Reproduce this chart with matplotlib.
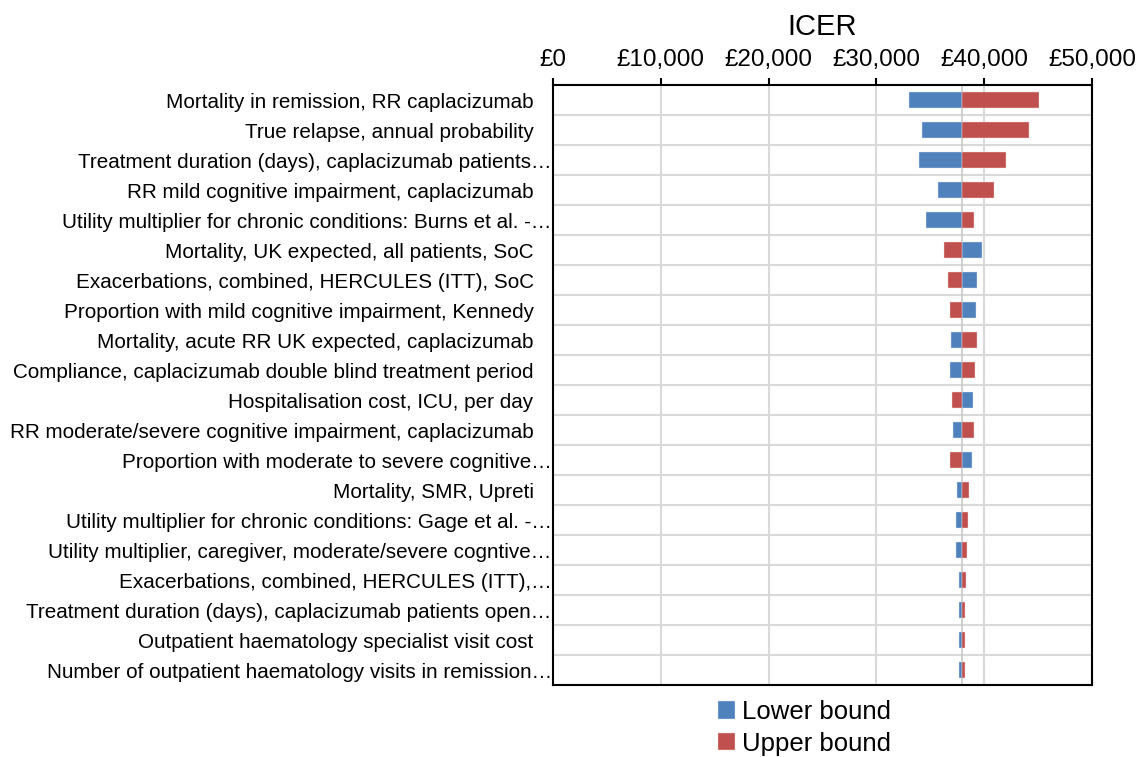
import matplotlib.pyplot as plt
from matplotlib.ticker import FuncFormatter, MultipleLocator

plt.rcParams['font.family'] = ['Liberation Sans', 'DejaVu Sans']

# parameters, top to bottom as shown
parameters = [
    "Mortality in remission, RR caplacizumab",
    "True relapse, annual probability",
    "Treatment duration (days), caplacizumab patients…",
    "RR mild cognitive impairment, caplacizumab",
    "Utility multiplier for chronic conditions: Burns et al. -…",
    "Mortality, UK expected, all patients, SoC",
    "Exacerbations, combined, HERCULES (ITT), SoC",
    "Proportion with mild cognitive impairment, Kennedy",
    "Mortality, acute RR UK expected, caplacizumab",
    "Compliance, caplacizumab double blind treatment period",
    "Hospitalisation cost, ICU, per day",
    "RR moderate/severe cognitive impairment, caplacizumab",
    "Proportion with moderate to severe cognitive…",
    "Mortality, SMR, Upreti",
    "Utility multiplier for chronic conditions: Gage et al. -…",
    "Utility multiplier, caregiver, moderate/severe cogntive…",
    "Exacerbations, combined, HERCULES (ITT),…",
    "Treatment duration (days), caplacizumab patients open…",
    "Outpatient haematology specialist visit cost",
    "Number of outpatient haematology visits in remission…",
]

base_icer = 37970

lower_bound = [33010, 34210, 33930, 35750, 34580, 39750, 39290, 39230, 36930, 36800,
               38960, 37070, 38830, 37440, 37420, 37350, 37680, 37700, 37700, 37700]
upper_bound = [45110, 44160, 42000, 40860, 39050, 36280, 36610, 36800, 39290, 39140,
               36980, 39050, 36860, 38590, 38520, 38400, 38310, 38220, 38220, 38220]

blue = '#4F81BD'
red = '#C0504D'
grid_col = '#D9D9D9'

fig = plt.figure(figsize=(11.38, 7.57), dpi=100)
ax = fig.add_axes([0.486, 0.0951, 0.4736, 0.7926])

n = len(parameters)
ypos = list(range(n))

lo_w = [v - base_icer for v in lower_bound]
hi_w = [v - base_icer for v in upper_bound]
ax.barh(ypos, lo_w, left=base_icer, height=0.54, color=blue, edgecolor='#DCE6F2',
        linewidth=0.3, label='Lower bound', zorder=3)
ax.barh(ypos, hi_w, left=base_icer, height=0.54, color=red, edgecolor='#F2DCDB',
        linewidth=0.3, label='Upper bound', zorder=3)

ax.axvline(base_icer, color='#C8C8C8', lw=1.2, zorder=2.5)

ax.set_xlim(0, 50000)
ax.set_ylim(n - 0.5, -0.5)
ax.xaxis.set_major_locator(MultipleLocator(10000))
ax.xaxis.set_major_formatter(FuncFormatter(lambda v, p: f"£{v:,.0f}"))
ax.xaxis.tick_top()
ax.xaxis.set_label_position('top')
ax.set_xlabel('ICER', fontsize=21, labelpad=10)
ax.tick_params(axis='x', labelsize=17.5, direction='out', length=5, width=1.5, pad=5)

ax.set_yticks(ypos)
ax.set_yticklabels(parameters, fontsize=14.9)
ax.tick_params(axis='y', length=0)
for tick, name in zip(ax.yaxis.get_major_ticks(), parameters):
    tick.set_pad(1 if name.endswith('…') else 14)

# grid: vertical at ticks, horizontal between rows
for x in range(10000, 50000, 10000):
    ax.axvline(x, color=grid_col, lw=1.5, zorder=1)
for k in range(1, n):
    ax.axhline(k - 0.5, color=grid_col, lw=1.5, zorder=1)

for s in ax.spines.values():
    s.set_linewidth(1.5)
    s.set_color('black')

ax.legend(loc='upper center', bbox_to_anchor=(0.467, -0.008), ncol=1, frameon=False,
          fontsize=18.5, handlelength=0.65, handleheight=0.65, handletextpad=0.3,
          labelspacing=0.3, borderaxespad=0)

fig.savefig('out.png', dpi=100)
